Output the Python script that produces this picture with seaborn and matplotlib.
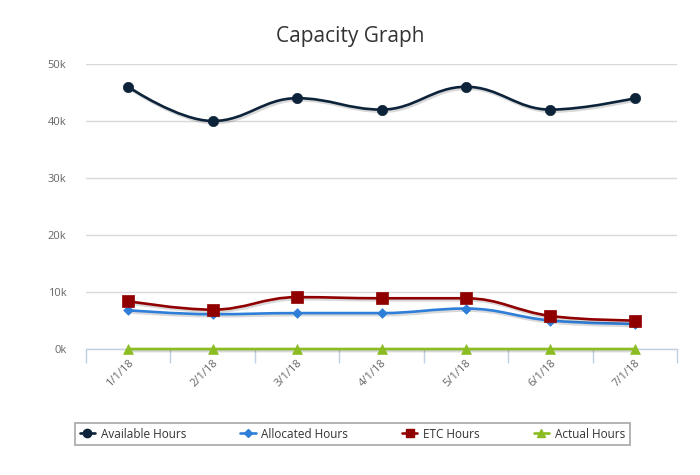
import numpy as np
import matplotlib
matplotlib.use("Agg")
import matplotlib.pyplot as plt
import seaborn as sns
import matplotlib.patheffects as pe
from matplotlib.path import Path
from matplotlib.patches import PathPatch
from matplotlib.lines import Line2D

# data
months = ["1/1/18", "2/1/18", "3/1/18", "4/1/18", "5/1/18", "6/1/18", "7/1/18"]
available = [46000, 40000, 44000, 42000, 46000, 42000, 44000]
allocated = [6800, 6100, 6300, 6300, 7100, 5000, 4400]
etc_hours = [8400, 6900, 9100, 8900, 8900, 5800, 5000]
actual = [0, 0, 0, 0, 0, 0, 0]
y_ticks = [0, 10000, 20000, 30000, 40000, 50000]


def spline_path(xs, ys, smooth=1.5):
    # highcharts style spline through the points
    n = len(xs)
    verts = [(xs[0], ys[0])]
    codes = [Path.MOVETO]
    right = (xs[0], ys[0])
    for i in range(1, n):
        x, y = xs[i], ys[i]
        left = (x, y)
        new_right = (x, y)
        if i < n - 1:
            lx, ly = xs[i - 1], ys[i - 1]
            nx, ny = xs[i + 1], ys[i + 1]
            d = smooth + 1
            lcx = (smooth * x + lx) / d
            lcy = (smooth * y + ly) / d
            rcx = (smooth * x + nx) / d
            rcy = (smooth * y + ny) / d
            if rcx != lcx:
                corr = (rcy - lcy) * (rcx - x) / (rcx - lcx) + y - rcy
                lcy += corr
                rcy += corr
            if lcy > ly and lcy > y:
                lcy = max(ly, y)
                rcy = 2 * y - lcy
            elif lcy < ly and lcy < y:
                lcy = min(ly, y)
                rcy = 2 * y - lcy
            if rcy > ny and rcy > y:
                rcy = max(ny, y)
                lcy = 2 * y - rcy
            elif rcy < ny and rcy < y:
                rcy = min(ny, y)
                lcy = 2 * y - rcy
            left = (lcx, lcy)
            new_right = (rcx, rcy)
        verts += [right, left, (x, y)]
        codes += [Path.CURVE4] * 3
        right = new_right
    return Path(verts, codes)


sns.set_style("white")
plt.rcParams["font.family"] = ["Open Sans", "DejaVu Sans"]

fig = plt.figure(figsize=(7, 4.75), dpi=100)
ax = fig.add_axes([86 / 700, 1 - 349 / 475, 591 / 700, 285 / 475])

series = [
    ("Available Hours", available, "#0d233a", "o", 55, 6),
    ("Allocated Hours", allocated, "#2f7ed8", "D", 24, 4),
    ("ETC Hours", etc_hours, "#910000", "s", 70, 6),
    ("Actual Hours", actual, "#8bbc21", "^", 50, 6),
]

xs = list(range(len(months)))
handles = []
for name, vals, col, mk, size, ms in series:
    patch = PathPatch(spline_path(xs, vals), facecolor="none", edgecolor=col,
                      lw=1.9, zorder=3, clip_on=False, capstyle="round")
    patch.set_path_effects([pe.SimpleLineShadow(offset=(1, -1.5), shadow_color="black", alpha=0.15),
                            pe.Normal()])
    ax.add_patch(patch)
    sns.scatterplot(x=xs, y=vals, marker=mk, s=size, color=col, edgecolor=col,
                    linewidth=0.5, zorder=4, clip_on=False, ax=ax)
    handles.append(Line2D([], [], color=col, lw=1.9, marker=mk, markersize=ms, label=name))

ax.set_xlim(-0.5, len(months) - 0.5)
ax.set_ylim(0, 50000)
ax.set_yticks(y_ticks)
ax.set_yticklabels([f"{int(v / 1000)}k" for v in y_ticks])
ax.grid(axis="y", color="#d8d8d8", lw=1)
ax.set_axisbelow(True)

ax.set_xticks(xs)
ax.set_xticklabels(months, rotation=45, ha="right", rotation_mode="anchor")
ax.set_xticks(np.arange(-0.5, len(months), 1.0), minor=True)
ax.tick_params(axis="x", which="major", bottom=True, length=0, pad=6, labelsize=8, labelcolor="#666666")
ax.tick_params(axis="x", which="minor", bottom=True, length=10, width=1, color="#c0d0e0", direction="out")
ax.tick_params(axis="y", length=0, pad=14, labelsize=8, labelcolor="#666666")

for s in ["top", "right", "left"]:
    ax.spines[s].set_visible(False)
ax.spines["bottom"].set_color("#c0d0e0")
ax.spines["bottom"].set_linewidth(1)

fig.suptitle("Capacity Graph", fontsize=15, color="#333333", y=0.945)

leg = fig.legend(handles=handles, loc="center", ncol=4, mode="expand",
                 bbox_to_anchor=(75 / 700, 1 - 449 / 475, 555 / 700, 30 / 475),
                 bbox_transform=fig.transFigure, fontsize=8.5, frameon=True,
                 fancybox=False, handlelength=1.3, handletextpad=0.5, borderaxespad=0)
leg.get_frame().set_edgecolor("#999999")
leg.get_frame().set_linewidth(1.3)
for t in leg.get_texts():
    t.set_color("#333333")

fig.savefig("out.png", dpi=100)
